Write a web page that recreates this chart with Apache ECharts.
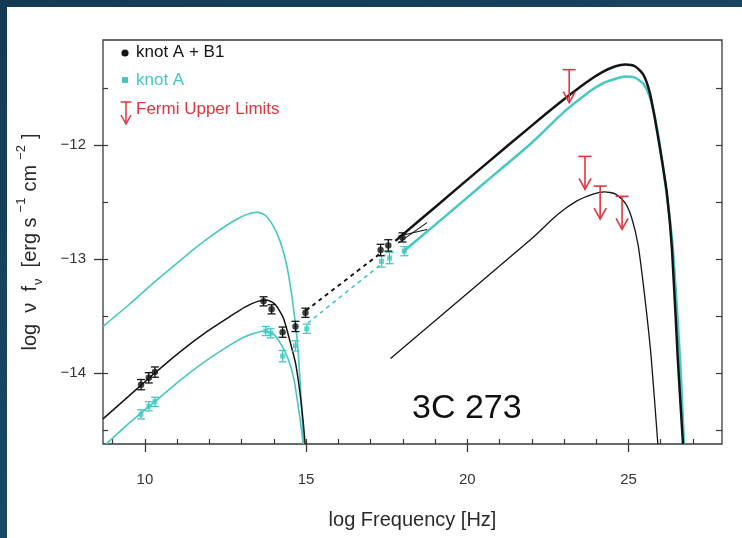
<!DOCTYPE html>
<html><head><meta charset="utf-8">
<script src="https://cdn.jsdelivr.net/npm/echarts@6/dist/echarts.min.js"></script>
<style>html,body{margin:0;padding:0;background:#fff}#c{width:742px;height:538px}</style>
</head><body><div id="c"></div>
<script>
// ---- data (log frequency [Hz], log nuFnu [erg s^-1 cm^-2]) ----
// synchrotron model, knot A + B1 (black)
const syncAB1X = [8.70, 9.50, 10.30, 11.10, 11.90, 12.60, 13.10, 13.50, 13.80, 14.05, 14.30, 14.50, 14.67, 14.80, 14.90, 14.97];
const syncAB1Y = [-14.40, -14.20, -14.00, -13.81, -13.64, -13.51, -13.42, -13.37, -13.36, -13.40, -13.52, -13.72, -13.91, -14.15, -14.40, -14.62];
// synchrotron model, knot A (cyan, lower)
const syncAX = [8.80, 9.50, 10.30, 11.10, 11.90, 12.60, 13.10, 13.50, 13.75, 14.00, 14.25, 14.45, 14.62, 14.75, 14.85, 14.91];
const syncAY = [-14.62, -14.44, -14.25, -14.06, -13.89, -13.76, -13.68, -13.64, -13.63, -13.66, -13.76, -13.88, -14.05, -14.28, -14.48, -14.62];
// synchrotron model, knot A (cyan, upper)
const syncA2X = [8.70, 9.50, 10.30, 11.10, 11.90, 12.50, 12.95, 13.25, 13.50, 13.75, 14.00, 14.20, 14.38, 14.52, 14.64, 14.74, 14.82, 14.88, 14.92];
const syncA2Y = [-13.59, -13.40, -13.20, -13.01, -12.83, -12.71, -12.635, -12.60, -12.59, -12.62, -12.72, -12.85, -13.03, -13.25, -13.50, -13.76, -14.10, -14.40, -14.62];
// inverse Compton model, knot A + B1 (black, upper)
const icAB1X = [17.77, 19.00, 20.50, 22.00, 23.00, 23.70, 24.20, 24.60, 24.90, 25.20, 25.45, 25.65, 25.80, 26.00, 26.19, 26.35, 26.53, 26.69];
const icAB1Y = [-12.84, -12.545, -12.185, -11.83, -11.60, -11.45, -11.36, -11.31, -11.295, -11.31, -11.38, -11.53, -11.74, -12.07, -12.42, -12.92, -13.88, -14.62];
// inverse Compton model, knot A (cyan)
const icAX = [17.99, 19.00, 20.50, 22.00, 23.00, 23.70, 24.20, 24.60, 24.90, 25.20, 25.45, 25.65, 25.85, 26.05, 26.25, 26.38, 26.60, 26.72];
const icAY = [-12.94, -12.70, -12.34, -11.98, -11.71, -11.55, -11.46, -11.42, -11.40, -11.41, -11.46, -11.57, -11.80, -12.15, -12.58, -12.92, -13.88, -14.62];
// inverse Compton model, lower (black thin)
const icLowX = [17.62, 19.00, 20.50, 22.00, 22.80, 23.40, 23.90, 24.25, 24.60, 24.90, 25.10, 25.30, 25.50, 25.70, 25.91];
const icLowY = [-13.87, -13.54, -13.18, -12.82, -12.61, -12.49, -12.43, -12.41, -12.43, -12.51, -12.64, -12.88, -13.32, -13.85, -14.62];
// dashed optical -> X-ray connections
const dashAB1X = [15.00, 17.30];
const dashAB1Y = [-13.45, -12.95];
const dashAX = [15.05, 17.35];
const dashAY = [-13.56, -13.04];
// X-ray bow tie
const bowX1 = [17.85, 18.75], bowY1 = [-12.86, -12.68];
const bowX2 = [17.85, 18.75], bowY2 = [-12.80, -12.74];
// observed points, knot A + B1
const ptsAB1X = [9.88, 10.12, 10.31, 13.68, 13.93, 14.27, 14.67, 14.98, 17.31, 17.55, 17.99];
const ptsAB1Y = [-14.10, -14.04, -13.99, -13.37, -13.44, -13.64, -13.59, -13.47, -12.92, -12.88, -12.81];
const ptsAB1E = [0.045, 0.045, 0.045, 0.04, 0.04, 0.045, 0.045, 0.04, 0.05, 0.05, 0.04];
// observed points, knot A
const ptsAX = [9.88, 10.12, 10.31, 13.75, 13.90, 14.27, 14.67, 15.02, 17.34, 17.59, 18.05];
const ptsAY = [-14.36, -14.29, -14.25, -13.63, -13.65, -13.85, -13.76, -13.61, -13.02, -12.99, -12.93];
const ptsAE = [0.04, 0.04, 0.04, 0.04, 0.04, 0.05, 0.045, 0.04, 0.05, 0.05, 0.04];
// Fermi upper limits
const ulX = [23.16, 23.65, 24.12, 24.80];
const ulY = [-11.34, -12.10, -12.36, -12.45];
// axis ticks
const xMajor = [10, 15, 20, 25];
const xMinor = [9, 10, 11, 12, 13, 14, 15, 16, 17, 18, 19, 20, 21, 22, 23, 24, 25, 26, 27];
const yMajor = [-14, -13, -12];
const yMinor = [-14.5, -14, -13.5, -13, -12.5, -12, -11.5];

const BLACK = '#141414', CYAN = '#45c8c1', RED = '#e3343e';
const FONT = '"Liberation Sans", Arial, sans-serif';
const zip = (a, b) => a.map((v, i) => [v, b[i]]);
const zip3 = (a, b, c) => a.map((v, i) => [v, b[i], c[i]]);

function lineSeries(x, y, color, width, dashed) {
  return {type: 'line', data: zip(x, y), showSymbol: false, smooth: 0.22, clip: true,
    lineStyle: {color: color, width: width, type: dashed ? [4, 4] : 'solid'}, silent: true, z: 3};
}
function errSeries(x, y, e, color) {
  return {type: 'custom', data: zip3(x, y, e), encode: {x: 0, y: 1}, z: 4, silent: true,
    renderItem: function (params, api) {
      const xv = api.value(0), yv = api.value(1), ev = api.value(2);
      const a = api.coord([xv, yv + ev]), b = api.coord([xv, yv - ev]);
      const cap = 4, st = {stroke: color, lineWidth: 1.3};
      return {type: 'group', children: [
        {type: 'line', shape: {x1: a[0], y1: a[1], x2: b[0], y2: b[1]}, style: st},
        {type: 'line', shape: {x1: a[0] - cap, y1: a[1], x2: a[0] + cap, y2: a[1]}, style: st},
        {type: 'line', shape: {x1: b[0] - cap, y1: b[1], x2: b[0] + cap, y2: b[1]}, style: st}
      ]};
    }};
}

const chart = echarts.init(document.getElementById('c'));
const tickLabel = {fontFamily: FONT, fontSize: 15, color: '#333'};
chart.setOption({
  animation: false,
  backgroundColor: '#ffffff',
  grid: {left: 103, right: 20, top: 40, bottom: 94, show: true, borderColor: '#3a3a3a', borderWidth: 1.3, backgroundColor: '#fff'},
  xAxis: [
    {type: 'value', min: 8.7, max: 27.9, position: 'bottom', splitLine: {show: false},
      axisLine: {show: false},
      axisTick: {show: true, customValues: xMajor, length: 8, lineStyle: {color: '#3a3a3a', width: 1.3}},
      axisLabel: {customValues: xMajor, margin: 28, ...tickLabel},
      name: 'log Frequency [Hz]', nameLocation: 'middle', nameGap: 66,
      nameTextStyle: {fontFamily: FONT, fontSize: 20, color: '#2a2a2a'}},
    {type: 'value', min: 8.7, max: 27.9, position: 'bottom', splitLine: {show: false},
      axisLine: {show: false}, axisLabel: {show: false},
      axisTick: {show: true, inside: true, customValues: xMinor, length: 5, lineStyle: {color: '#3a3a3a', width: 1.2}}}
  ],
  yAxis: [
    {type: 'value', min: -14.62, max: -11.08, position: 'left', splitLine: {show: false},
      axisLine: {show: false},
      axisTick: {show: true, customValues: yMajor, length: 9, lineStyle: {color: '#3a3a3a', width: 1.3}},
      axisLabel: {customValues: yMajor, margin: 17, formatter: v => String(v).replace('-', '\u2212'), ...tickLabel},
      name: '{n|log  \u03bd  f}{sub|\u03bd}{n|  [erg s}{sup|\u22121}{n|cm}{sup|\u22122}{n|]}',
      nameLocation: 'middle', nameGap: 58, nameRotate: 90,
      nameTextStyle: {fontFamily: FONT, fontSize: 20, color: '#2a2a2a',
        rich: {
          n: {fontFamily: FONT, fontSize: 20, color: '#2a2a2a', lineHeight: 30},
          sup: {fontFamily: FONT, fontSize: 13, color: '#2a2a2a', verticalAlign: 'top', padding: [0, 6, 0, 5]},
          sub: {fontFamily: FONT, fontSize: 13, color: '#2a2a2a', verticalAlign: 'bottom', padding: [0, 0, 0, 1]}
        }}},
    {type: 'value', min: -14.62, max: -11.08, position: 'left', splitLine: {show: false},
      axisLine: {show: false}, axisLabel: {show: false},
      axisTick: {show: true, inside: true, customValues: yMinor, length: 5, lineStyle: {color: '#3a3a3a', width: 1.2}}},
    {type: 'value', min: -14.62, max: -11.08, position: 'right', splitLine: {show: false},
      axisLine: {show: false}, axisLabel: {show: false},
      axisTick: {show: true, inside: true, customValues: yMinor, length: 6, lineStyle: {color: '#3a3a3a', width: 1.2}}}
  ],
  series: [
    lineSeries(syncA2X, syncA2Y, CYAN, 1.6),
    lineSeries(syncAX, syncAY, CYAN, 1.6),
    lineSeries(syncAB1X, syncAB1Y, BLACK, 1.5),
    lineSeries(icAX, icAY, CYAN, 2.5),
    lineSeries(icAB1X, icAB1Y, BLACK, 2.5),
    lineSeries(icLowX, icLowY, BLACK, 1.3),
    lineSeries(dashAX, dashAY, CYAN, 1.6, true),
    lineSeries(dashAB1X, dashAB1Y, BLACK, 1.9, true),
    lineSeries(bowX1, bowY1, BLACK, 1.1),
    lineSeries(bowX2, bowY2, BLACK, 1.1),
    errSeries(ptsAX, ptsAY, ptsAE, CYAN),
    errSeries(ptsAB1X, ptsAB1Y, ptsAB1E, BLACK),
    {name: 'knot A', type: 'scatter', data: zip(ptsAX, ptsAY), symbol: 'rect', symbolSize: 5,
      itemStyle: {color: CYAN}, z: 5, silent: true},
    {name: 'knot A + B1', type: 'scatter', data: zip(ptsAB1X, ptsAB1Y), symbol: 'circle', symbolSize: 6.5,
      itemStyle: {color: BLACK}, z: 5, silent: true},
    {name: 'Fermi Upper Limits', type: 'custom', data: zip(ulX, ulY), encode: {x: 0, y: 1}, z: 6, silent: true,
      renderItem: function (params, api) {
        const p = api.coord([api.value(0), api.value(1)]);
        const L = 33, w = 6.5, hw = 6, hh = 11, st = {stroke: RED, lineWidth: 1.6, fill: null};
        return {type: 'group', children: [
          {type: 'line', shape: {x1: p[0] - w, y1: p[1], x2: p[0] + w, y2: p[1]}, style: st},
          {type: 'line', shape: {x1: p[0], y1: p[1], x2: p[0], y2: p[1] + L}, style: st},
          {type: 'polyline', shape: {points: [[p[0] - hw, p[1] + L - hh], [p[0], p[1] + L], [p[0] + hw, p[1] + L - hh]]}, style: st}
        ]};
      }}
  ],
  graphic: [
    {type: 'rect', left: 0, top: 0, shape: {width: 742, height: 7}, silent: true,
      style: {fill: new echarts.graphic.LinearGradient(0, 0, 1, 0, [{offset: 0, color: '#143a54'}, {offset: 1, color: '#17445f'}])}},
    {type: 'rect', left: 0, top: 0, shape: {width: 7, height: 538}, silent: true,
      style: {fill: new echarts.graphic.LinearGradient(0, 0, 0, 1, [{offset: 0, color: '#143a54'}, {offset: 1, color: '#174a66'}])}},
    // legend
    {type: 'circle', shape: {cx: 125, cy: 53, r: 3.6}, style: {fill: BLACK}, silent: true},
    {type: 'text', left: 136, top: 44, style: {text: 'knot A + B1', fill: BLACK, font: '17px ' + FONT}, silent: true},
    {type: 'rect', shape: {x: 122, y: 77, width: 6, height: 6}, style: {fill: CYAN}, silent: true},
    {type: 'text', left: 136, top: 72, style: {text: 'knot A', fill: CYAN, font: '17px ' + FONT}, silent: true},
    {type: 'group', silent: true, children: [
      {type: 'line', shape: {x1: 120.5, y1: 102, x2: 131.5, y2: 102}, style: {stroke: RED, lineWidth: 1.5}},
      {type: 'line', shape: {x1: 126, y1: 102, x2: 126, y2: 124}, style: {stroke: RED, lineWidth: 1.5}},
      {type: 'polyline', shape: {points: [[121, 115], [126, 124], [131, 115]]}, style: {stroke: RED, lineWidth: 1.5, fill: null}}
    ]},
    {type: 'text', left: 136, top: 101, style: {text: 'Fermi Upper Limits', fill: RED, font: '17px ' + FONT}, silent: true},
    {type: 'text', left: 412, top: 392, style: {text: '3C 273', fill: '#111', font: '34px ' + FONT}, silent: true}
  ]
});
</script></body></html>
